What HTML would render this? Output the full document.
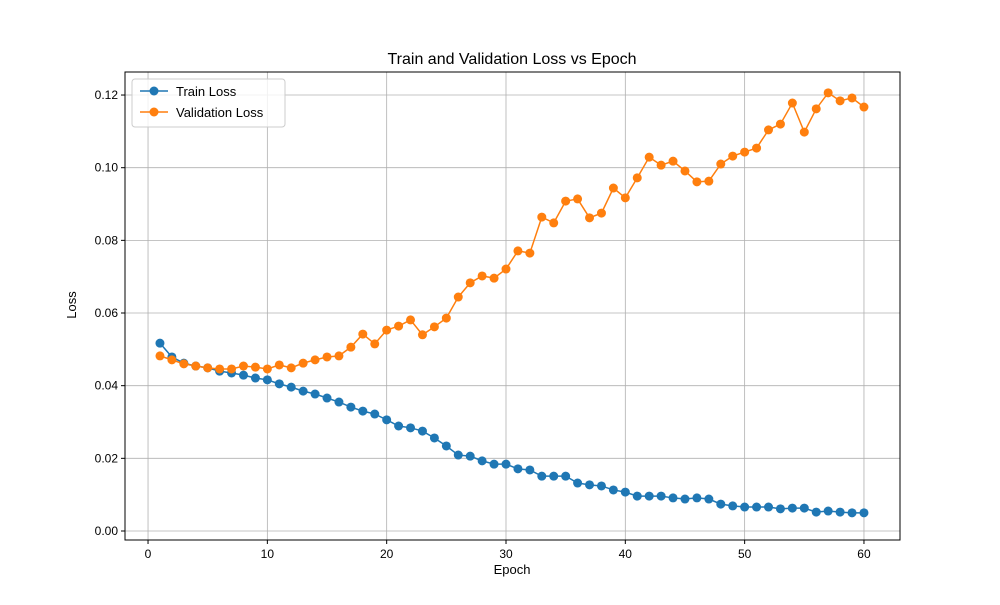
<!DOCTYPE html>
<html><head><meta charset="utf-8"><style>
body{margin:0;background:#fff;font-family:"Liberation Sans","DejaVu Sans",sans-serif}
svg text{font-family:"Liberation Sans","DejaVu Sans",sans-serif}
</style></head><body>
<svg id="chart" width="1000" height="600" xmlns="http://www.w3.org/2000/svg">
<rect width="1000" height="600" fill="#fff"/>
<g id="grid"></g><g id="axes"></g><g id="series"></g>
<text x="512" y="64" text-anchor="middle" font-size="16">Train and Validation Loss vs Epoch</text>
<text x="512" y="574" text-anchor="middle" font-size="13">Epoch</text>
<text x="76" y="305" text-anchor="middle" font-size="13" transform="rotate(-90 76 305)">Loss</text>
<g>
<rect x="132" y="79" width="153" height="48" fill="#fff" fill-opacity="0.8" stroke="#ccc" rx="3"/>
<g><line x1="140" y1="91" x2="168" y2="91" stroke="#1f77b4" stroke-width="1.5"/><circle cx="154" cy="91" r="4.5" fill="#1f77b4"/><text x="176" y="96" font-size="13">Train Loss</text></g>
<g><line x1="140" y1="112" x2="168" y2="112" stroke="#ff7f0e" stroke-width="1.5"/><circle cx="154" cy="112" r="4.5" fill="#ff7f0e"/><text x="176" y="117" font-size="13">Validation Loss</text></g>
</g>
</svg>
<script>
const epochs=[];for(let i=1;i<=60;i++)epochs.push(i);
const trainLoss=[0.0517,0.0479,0.0462,0.0454,0.0449,0.0440,0.0435,0.0429,0.0421,0.0416,0.0405,0.0396,0.0385,0.0377,0.0366,0.0355,0.0341,0.0330,0.0322,0.0306,0.0289,0.0284,0.0275,0.0256,0.0234,0.0209,0.0206,0.0193,0.0184,0.0184,0.0171,0.0168,0.0151,0.0151,0.0151,0.0132,0.0127,0.0124,0.0113,0.0107,0.0096,0.0096,0.0096,0.0091,0.0088,0.0091,0.0088,0.0074,0.0069,0.0066,0.0066,0.0066,0.0061,0.0063,0.0063,0.0052,0.0055,0.0052,0.0050,0.0050];
const valLoss=[0.0482,0.0471,0.0460,0.0454,0.0449,0.0446,0.0446,0.0454,0.0451,0.0446,0.0457,0.0449,0.0462,0.0471,0.0479,0.0482,0.0506,0.0542,0.0515,0.0553,0.0564,0.0581,0.0540,0.0562,0.0586,0.0644,0.0683,0.0702,0.0696,0.0721,0.0771,0.0765,0.0864,0.0848,0.0908,0.0914,0.0862,0.0875,0.0944,0.0917,0.0972,0.1029,0.1007,0.1018,0.0991,0.0961,0.0963,0.1010,0.1032,0.1043,0.1054,0.1104,0.1120,0.1178,0.1098,0.1162,0.1206,0.1184,0.1192,0.1167];
const xTicks=[0,10,20,30,40,50,60];
const yTicks=[0,0.02,0.04,0.06,0.08,0.10,0.12];
const L=125,R=900,T=72,B=540;
const xMin=-1.93,xMax=63.02,yMin=-0.00248,yMax=0.12634;
const X=v=>L+(v-xMin)/(xMax-xMin)*(R-L);
const Y=v=>B-(v-yMin)/(yMax-yMin)*(B-T);
const NS="http://www.w3.org/2000/svg";
function mk(tag,attrs,parent){const e=document.createElementNS(NS,tag);for(const k in attrs)e.setAttribute(k,attrs[k]);parent.appendChild(e);return e;}
const grid=document.getElementById('grid'),axes=document.getElementById('axes'),series=document.getElementById('series');
xTicks.forEach(t=>{const x=X(t);
const g=mk('line',{x1:x,x2:x,y1:T,y2:B,stroke:'#b0b0b0','stroke-width':0.8},grid);


mk('line',{x1:x,x2:x,y1:B,y2:B+4,stroke:'#000'},axes);
const tx=mk('text',{x:x,y:B+18,'text-anchor':'middle','font-size':12},axes);tx.textContent=t;

});
yTicks.forEach(t=>{const y=Y(t);
const g=mk('line',{x1:L,x2:R,y1:y,y2:y,stroke:'#b0b0b0','stroke-width':0.8},grid);


mk('line',{x1:L-4,x2:L,y1:y,y2:y,stroke:'#000'},axes);
const tx=mk('text',{x:L-7,y:y+4,'text-anchor':'end','font-size':12},axes);tx.textContent=t.toFixed(2);

});
const fr=mk('rect',{x:L,y:T,width:R-L,height:B-T,fill:'none',stroke:'#000','stroke-width':1},axes);


function draw(vals,color,name){
const g=mk('g',{},series);


mk('polyline',{points:vals.map((v,i)=>X(epochs[i])+','+Y(v)).join(' '),fill:'none',stroke:color,'stroke-width':1.5},g);
vals.forEach((v,i)=>{const c=mk('circle',{cx:X(epochs[i]),cy:Y(v),r:4.5,fill:color},g);

});}
draw(trainLoss,'#1f77b4','train-loss-series');
draw(valLoss,'#ff7f0e','validation-loss-series');
</script>
</body></html>
